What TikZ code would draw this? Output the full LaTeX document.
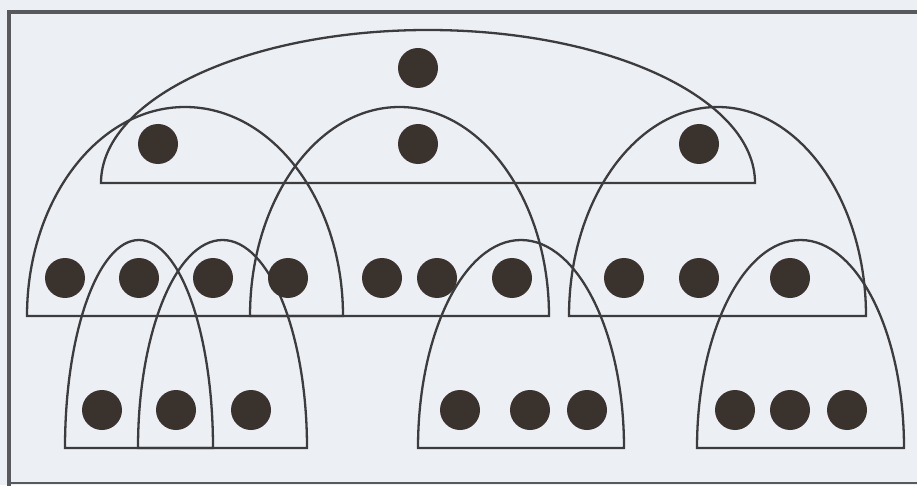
\documentclass[tikz,border=0pt]{standalone}
\definecolor{bgc}{HTML}{ECEFF4}
\definecolor{linec}{HTML}{3C3C3E}
\definecolor{framec}{HTML}{58595C}
\definecolor{dotc}{HTML}{3A322D}
\begin{document}
\begin{tikzpicture}[x=1pt,y=1pt,
  dot/.style={circle,fill=dotc,draw=none,minimum size=40pt,inner sep=0pt},
  dome/.style={draw=linec,line width=2.3pt,line join=miter},
  frameline/.style={draw=framec,line width=3.2pt}]
\fill[bgc] (0,0) rectangle (917,485);
\useasboundingbox (0,0) rectangle (917,485);
% frame
\draw[frameline] (920,473) -- (9,473) -- (9,-3);
\draw[draw=framec,line width=2pt] (9,2) -- (920,2);
% domes
\newcommand{\domeat}[4]{\draw[dome] (#1,#2) arc[start angle=180,end angle=0,x radius=#3,y radius=#4] -- cycle;}
\domeat{101}{302}{327}{153}
\domeat{27}{169}{158}{209}
\domeat{250}{169}{149.5}{209}
\domeat{569}{169}{148.5}{209}
\domeat{65}{37}{74}{208}
\domeat{138}{37}{84.5}{208}
\domeat{418}{37}{103}{208}
\domeat{697}{37}{103.5}{208}
% dots
\node[dot] (t0) at (418,417) {};
\node[dot] (a1) at (158,341) {};
\node[dot] (a2) at (418,341) {};
\node[dot] (a3) at (699,341) {};
\foreach \x [count=\i] in {65,139,213,288,382,437,512,624,699,790}
  \node[dot] (b\i) at (\x,207) {};
\foreach \x [count=\i] in {102,176,251,460,530,587,735,790,847}
  \node[dot] (c\i) at (\x,75) {};
\end{tikzpicture}
\end{document}
